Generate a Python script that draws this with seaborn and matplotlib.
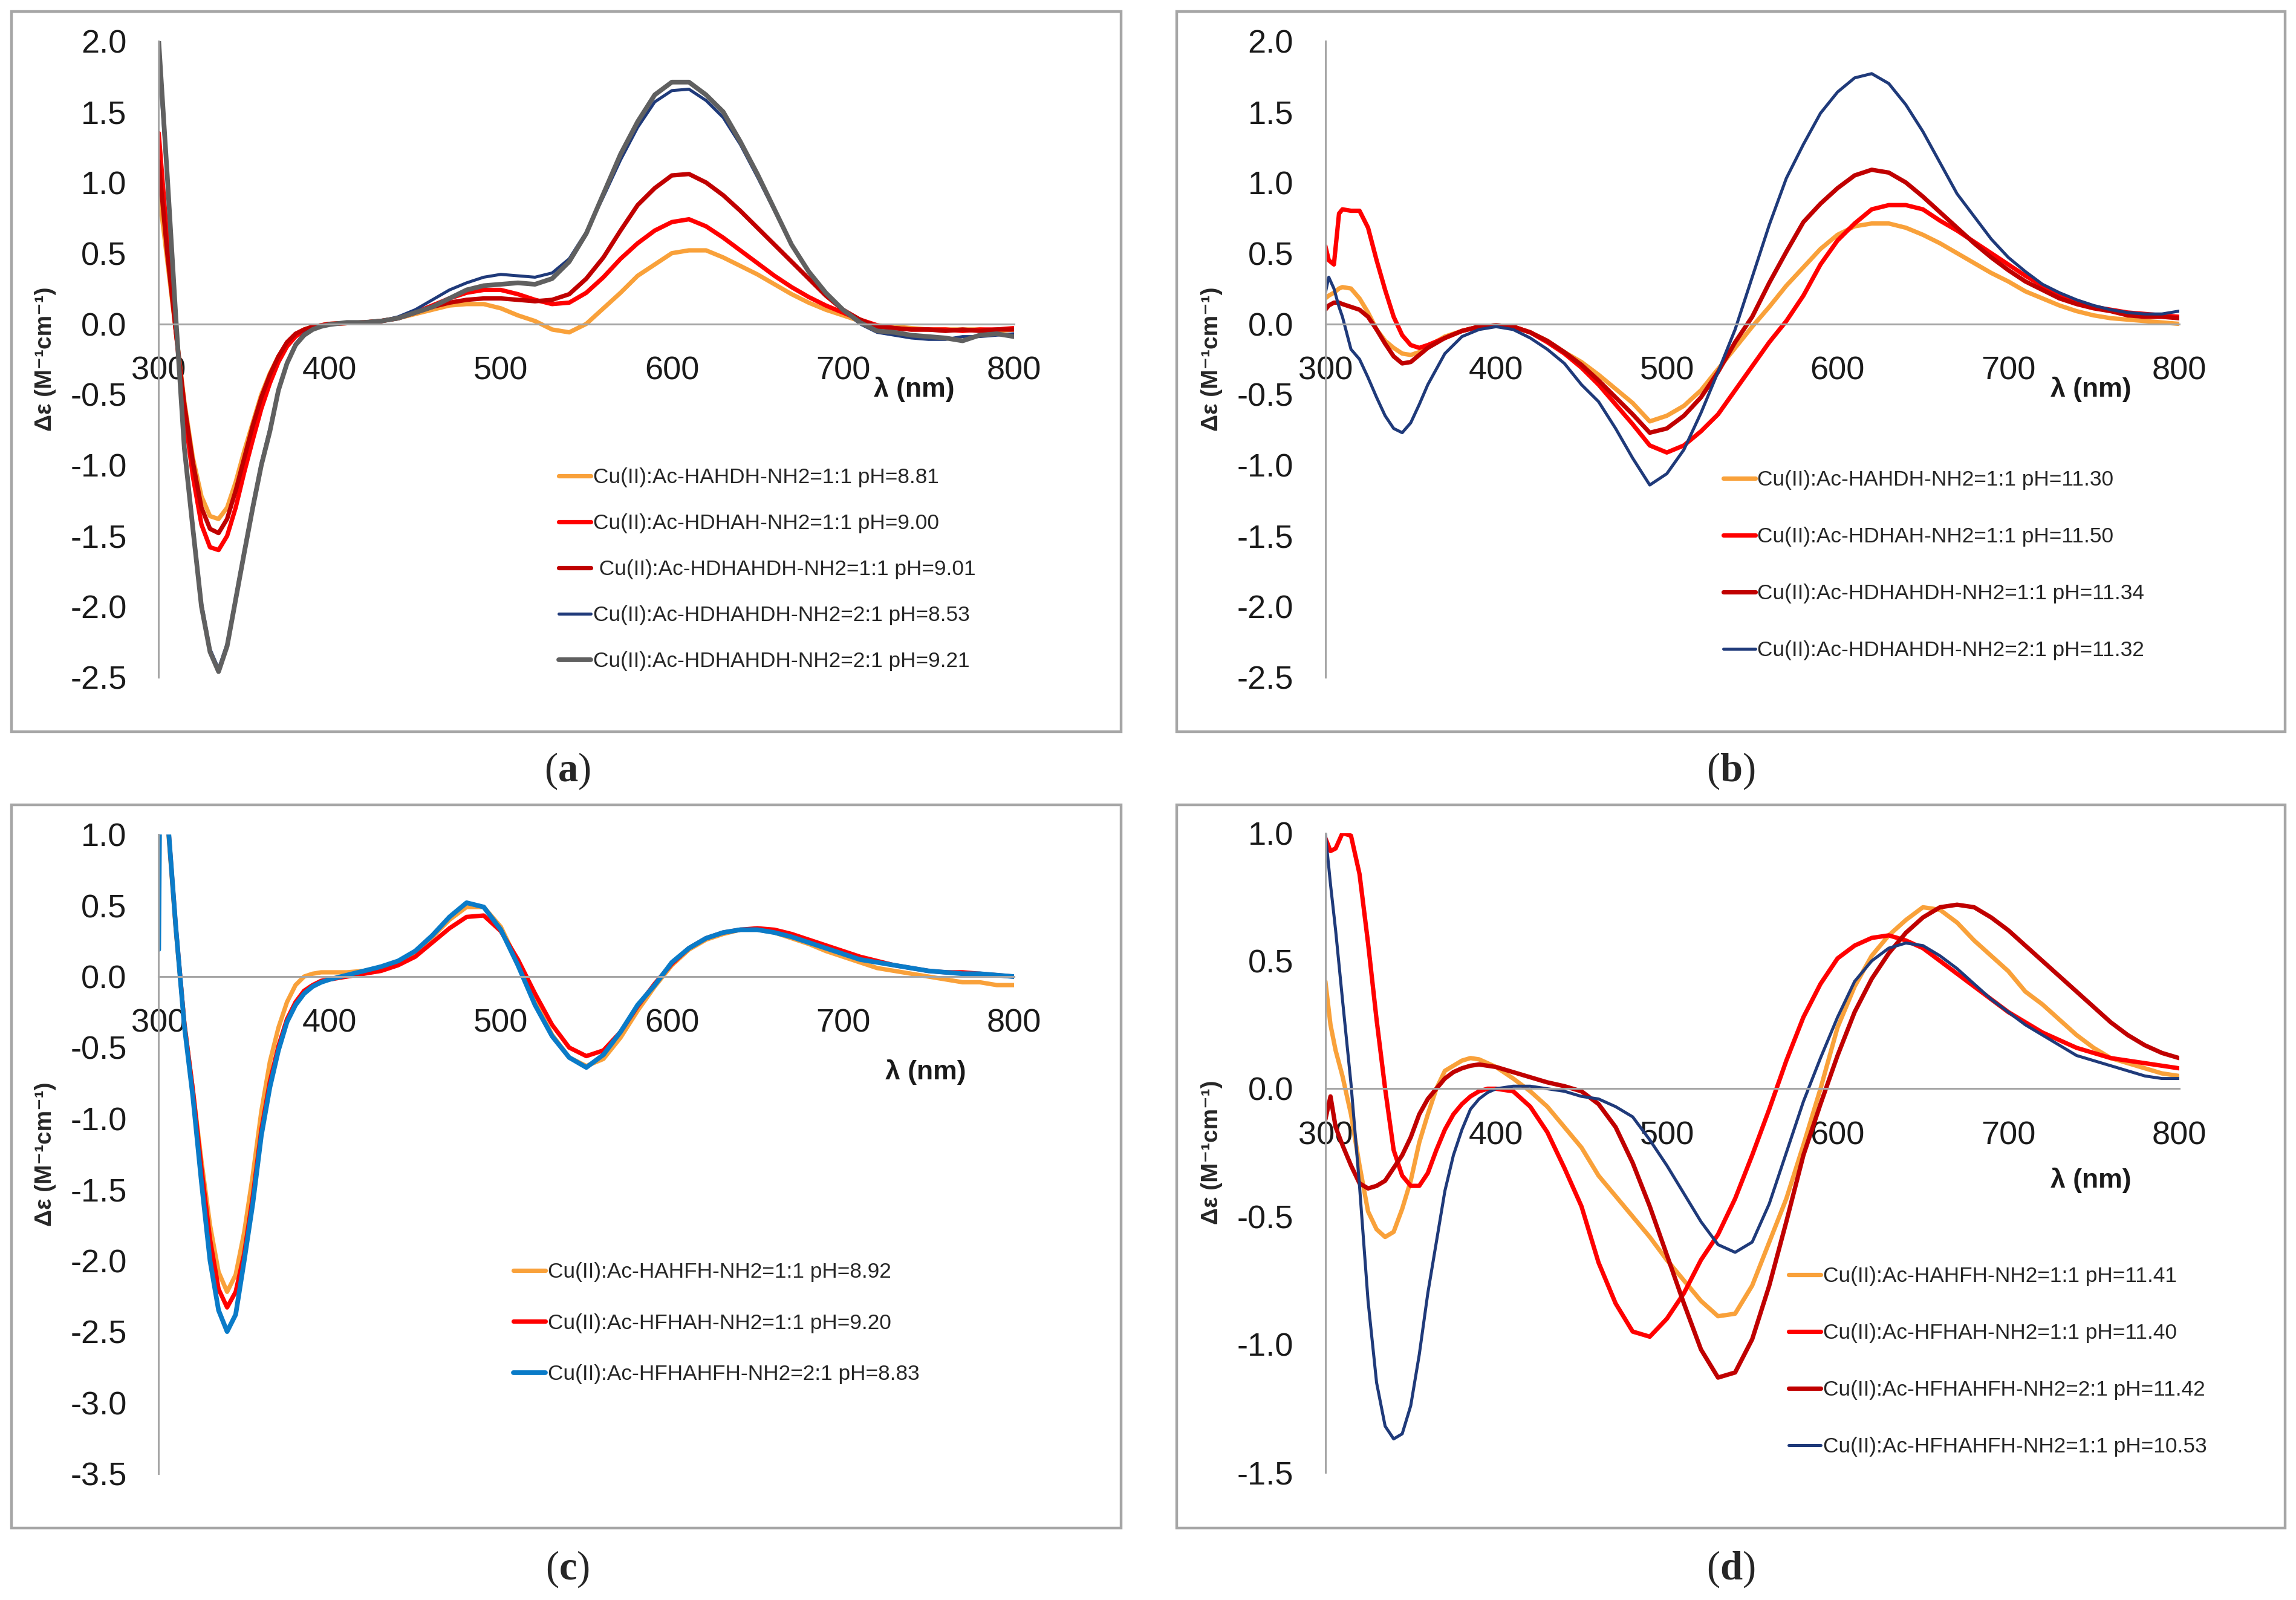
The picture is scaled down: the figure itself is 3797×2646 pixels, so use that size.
import numpy as np
import pandas as pd
import seaborn as sns
import matplotlib.pyplot as plt
from matplotlib.patches import Rectangle
from matplotlib.ticker import FormatStrFormatter

# ---- wavelength grids (nm) ----
wl_a = list(range(300, 401, 5)) + list(range(410, 801, 10))
wl_b = [300, 302, 305, 308, 310, 315, 320, 325, 330, 335, 340, 345, 350, 355, 360] + list(range(370, 801, 10))
wl_c = [300, 301] + list(range(305, 401, 5)) + list(range(410, 801, 10))
wl_d = [300, 303, 306] + list(range(310, 401, 5)) + list(range(410, 801, 10))

# ---- panel (a) ----
a_hahdh_881 = [0.95, 0.45, -0.05, -0.55, -0.95, -1.22, -1.36, -1.38, -1.30, -1.12, -0.90, -0.70, -0.50, -0.35,
               -0.23, -0.14, -0.08, -0.04, -0.02, -0.01, 0.00,
               0.005, 0.01, 0.02, 0.04, 0.07, 0.10, 0.13, 0.14, 0.14, 0.11,
               0.06, 0.02, -0.04, -0.06, 0.00, 0.11, 0.22, 0.34, 0.42, 0.50,
               0.52, 0.52, 0.47, 0.41, 0.35, 0.28, 0.21, 0.15, 0.10, 0.06,
               0.02, -0.01, -0.02, -0.03, -0.04, -0.04, -0.04, -0.04, -0.05, -0.04]
a_hdhah_900 = [1.35, 0.60, -0.05, -0.62, -1.08, -1.42, -1.58, -1.60, -1.50, -1.30, -1.05, -0.82, -0.60, -0.42,
               -0.27, -0.16, -0.09, -0.05, -0.02, -0.01, 0.00,
               0.005, 0.01, 0.02, 0.04, 0.08, 0.13, 0.18, 0.22, 0.24, 0.24,
               0.21, 0.17, 0.14, 0.15, 0.22, 0.33, 0.46, 0.57, 0.66, 0.72,
               0.74, 0.69, 0.61, 0.52, 0.43, 0.34, 0.26, 0.19, 0.13, 0.08,
               0.03, -0.01, -0.03, -0.04, -0.04, -0.04, -0.05, -0.04, -0.04, -0.03]
a_hdhahdh11_901 = [1.15, 0.50, -0.05, -0.57, -0.98, -1.30, -1.45, -1.48, -1.38, -1.18, -0.95, -0.72, -0.52, -0.36,
                   -0.23, -0.13, -0.07, -0.04, -0.02, -0.01, 0.00,
                   0.005, 0.01, 0.02, 0.04, 0.08, 0.12, 0.15, 0.17, 0.18, 0.18,
                   0.17, 0.16, 0.17, 0.21, 0.32, 0.47, 0.66, 0.84, 0.96, 1.05,
                   1.06, 1.00, 0.91, 0.80, 0.68, 0.56, 0.44, 0.32, 0.20, 0.10,
                   0.03, -0.02, -0.03, -0.04, -0.04, -0.05, -0.04, -0.05, -0.04, -0.04]
a_hdhahdh21_853 = [1.90, 1.00, 0.05, -0.85, -1.42, -1.97, -2.30, -2.44, -2.26, -1.93, -1.60, -1.28, -0.98, -0.74,
                   -0.46, -0.27, -0.14, -0.07, -0.035, -0.015, 0.00,
                   0.01, 0.01, 0.02, 0.05, 0.10, 0.17, 0.24, 0.29, 0.33, 0.35,
                   0.34, 0.33, 0.36, 0.46, 0.65, 0.90, 1.16, 1.39, 1.57, 1.65,
                   1.66, 1.58, 1.46, 1.27, 1.04, 0.80, 0.56, 0.37, 0.22, 0.10,
                   0.00, -0.06, -0.08, -0.10, -0.11, -0.11, -0.09, -0.09, -0.08, -0.07]
a_hdhahdh21_921 = [2.00, 1.05, 0.05, -0.88, -1.45, -2.00, -2.32, -2.46, -2.28, -1.95, -1.62, -1.30, -1.00, -0.76,
                   -0.47, -0.28, -0.15, -0.08, -0.04, -0.018, -0.005,
                   0.01, 0.01, 0.02, 0.04, 0.08, 0.12, 0.18, 0.24, 0.27, 0.28,
                   0.29, 0.28, 0.32, 0.44, 0.64, 0.92, 1.20, 1.43, 1.62, 1.71,
                   1.71, 1.62, 1.50, 1.29, 1.06, 0.81, 0.56, 0.37, 0.22, 0.10,
                   0.01, -0.05, -0.06, -0.08, -0.09, -0.10, -0.12, -0.08, -0.07, -0.09]

# ---- panel (b) ----
b_hahdh_1130 = [0.18, 0.20, 0.22, 0.25, 0.26, 0.25, 0.18, 0.08, -0.04, -0.12, -0.17, -0.21, -0.22, -0.20, -0.16,
                -0.09, -0.05, -0.02, -0.01,
                -0.02, -0.06, -0.12, -0.20, -0.27, -0.36, -0.46, -0.56, -0.69, -0.65,
                -0.58, -0.47, -0.32, -0.17, -0.02, 0.12, 0.27, 0.40, 0.53, 0.63,
                0.69, 0.71, 0.71, 0.68, 0.63, 0.57, 0.50, 0.43, 0.36, 0.30,
                0.23, 0.18, 0.13, 0.09, 0.06, 0.04, 0.03, 0.02, 0.01, 0.00]
b_hdhah_1150 = [0.55, 0.45, 0.42, 0.78, 0.81, 0.80, 0.80, 0.68, 0.45, 0.24, 0.05, -0.08, -0.15, -0.17, -0.15,
                -0.10, -0.05, -0.02, -0.01,
                -0.02, -0.06, -0.13, -0.21, -0.31, -0.43, -0.57, -0.71, -0.86, -0.91,
                -0.86, -0.76, -0.64, -0.47, -0.30, -0.13, 0.02, 0.20, 0.42, 0.59,
                0.71, 0.81, 0.84, 0.84, 0.81, 0.73, 0.66, 0.58, 0.50, 0.42,
                0.34, 0.27, 0.21, 0.16, 0.12, 0.10, 0.08, 0.07, 0.06, 0.05]
b_hdhahdh11_1134 = [0.10, 0.13, 0.15, 0.15, 0.14, 0.12, 0.10, 0.05, -0.04, -0.14, -0.23, -0.28, -0.27, -0.22, -0.17,
                    -0.10, -0.05, -0.02, -0.01,
                    -0.02, -0.06, -0.12, -0.20, -0.29, -0.40, -0.52, -0.64, -0.77, -0.74,
                    -0.65, -0.52, -0.34, -0.13, 0.05, 0.29, 0.51, 0.72, 0.85, 0.96,
                    1.05, 1.09, 1.07, 1.00, 0.90, 0.79, 0.68, 0.57, 0.47, 0.38,
                    0.30, 0.24, 0.18, 0.14, 0.11, 0.09, 0.06, 0.05, 0.05, 0.04]
b_hdhahdh21_1132 = [0.22, 0.33, 0.25, 0.12, 0.05, -0.18, -0.25, -0.38, -0.52, -0.65, -0.74, -0.77, -0.70, -0.57, -0.43,
                    -0.21, -0.09, -0.04, -0.02,
                    -0.04, -0.10, -0.18, -0.28, -0.43, -0.55, -0.74, -0.95, -1.14, -1.06,
                    -0.89, -0.63, -0.34, -0.04, 0.33, 0.70, 1.03, 1.27, 1.49, 1.64,
                    1.74, 1.77, 1.70, 1.55, 1.36, 1.14, 0.92, 0.76, 0.60, 0.47,
                    0.37, 0.28, 0.22, 0.17, 0.13, 0.10, 0.08, 0.07, 0.07, 0.09]

# ---- panel (c) ----
c_hahfh_892 = [2.20, 2.10, 1.12, 0.33, -0.33, -0.80, -1.30, -1.75, -2.08, -2.22, -2.10, -1.80, -1.40, -0.95,
               -0.60, -0.36, -0.18, -0.06, 0.00, 0.02, 0.03, 0.03,
               0.03, 0.04, 0.06, 0.10, 0.17, 0.28, 0.40, 0.49, 0.49, 0.35,
               0.10, -0.18, -0.41, -0.57, -0.63, -0.58, -0.43, -0.24, -0.07, 0.08,
               0.19, 0.26, 0.30, 0.33, 0.33, 0.31, 0.27, 0.23, 0.18, 0.14,
               0.10, 0.06, 0.04, 0.02, 0.00, -0.02, -0.04, -0.04, -0.06, -0.06]
c_hfhah_920 = [2.30, 2.20, 1.15, 0.35, -0.33, -0.80, -1.35, -1.85, -2.20, -2.33, -2.22, -1.95, -1.55, -1.08,
               -0.74, -0.49, -0.30, -0.18, -0.10, -0.06, -0.03, -0.02,
               0.00, 0.02, 0.04, 0.08, 0.14, 0.24, 0.34, 0.42, 0.43, 0.32,
               0.12, -0.12, -0.34, -0.50, -0.56, -0.52, -0.39, -0.21, -0.05, 0.09,
               0.20, 0.27, 0.31, 0.33, 0.34, 0.33, 0.30, 0.26, 0.22, 0.18,
               0.14, 0.11, 0.08, 0.06, 0.04, 0.03, 0.03, 0.02, 0.01, 0.00]
c_hfhahfh21_883 = [0.19, 1.90, 1.15, 0.35, -0.35, -0.85, -1.45, -2.00, -2.35, -2.50, -2.38, -2.00, -1.60, -1.12,
                   -0.78, -0.52, -0.32, -0.20, -0.12, -0.07, -0.04, -0.02,
                   0.01, 0.04, 0.07, 0.11, 0.18, 0.29, 0.42, 0.52, 0.49, 0.33,
                   0.08, -0.20, -0.42, -0.57, -0.64, -0.55, -0.39, -0.20, -0.06, 0.10,
                   0.20, 0.27, 0.31, 0.33, 0.33, 0.31, 0.28, 0.24, 0.20, 0.16,
                   0.12, 0.10, 0.08, 0.06, 0.04, 0.03, 0.02, 0.02, 0.01, 0.00]

# ---- panel (d) ----
d_hahfh_1141 = [0.42, 0.25, 0.15, 0.05, -0.10, -0.30, -0.48, -0.55, -0.58, -0.56, -0.47, -0.36, -0.21, -0.10,
                0.00, 0.07, 0.09, 0.11, 0.12, 0.115, 0.10, 0.085,
                0.04, -0.01, -0.07, -0.15, -0.23, -0.34, -0.42, -0.50, -0.58, -0.67,
                -0.75, -0.83, -0.89, -0.88, -0.77, -0.60, -0.43, -0.22, 0.00, 0.24,
                0.40, 0.52, 0.60, 0.66, 0.71, 0.70, 0.65, 0.58, 0.52, 0.46,
                0.38, 0.33, 0.27, 0.21, 0.16, 0.12, 0.10, 0.08, 0.06, 0.05]
d_hfhah_1140 = [0.98, 0.93, 0.94, 1.00, 0.99, 0.84, 0.57, 0.27, 0.00, -0.24, -0.34, -0.38, -0.38, -0.33,
                -0.24, -0.16, -0.10, -0.06, -0.03, -0.01, 0.00, 0.00,
                -0.01, -0.07, -0.17, -0.31, -0.46, -0.68, -0.84, -0.95, -0.97, -0.90,
                -0.80, -0.67, -0.57, -0.43, -0.26, -0.08, 0.11, 0.28, 0.41, 0.51,
                0.56, 0.59, 0.60, 0.58, 0.55, 0.50, 0.45, 0.40, 0.35, 0.30,
                0.26, 0.22, 0.19, 0.16, 0.14, 0.12, 0.11, 0.10, 0.09, 0.08]
d_hfhahfh21_1142 = [-0.12, -0.03, -0.15, -0.22, -0.30, -0.37, -0.39, -0.38, -0.36, -0.31, -0.26, -0.19, -0.10, -0.04,
                    0.00, 0.04, 0.065, 0.08, 0.09, 0.095, 0.09, 0.085,
                    0.065, 0.045, 0.025, 0.01, -0.01, -0.06, -0.15, -0.29, -0.46, -0.65,
                    -0.84, -1.02, -1.13, -1.11, -0.98, -0.77, -0.52, -0.26, -0.06, 0.13,
                    0.30, 0.43, 0.53, 0.61, 0.67, 0.71, 0.72, 0.71, 0.67, 0.62,
                    0.56, 0.50, 0.44, 0.38, 0.32, 0.26, 0.21, 0.17, 0.14, 0.12]
d_hfhahfh11_1053 = [1.00, 0.80, 0.62, 0.35, 0.02, -0.38, -0.83, -1.15, -1.32, -1.37, -1.35, -1.24, -1.04, -0.80,
                    -0.60, -0.40, -0.26, -0.16, -0.08, -0.04, -0.015, 0.00,
                    0.01, 0.01, 0.00, -0.01, -0.03, -0.04, -0.07, -0.11, -0.20, -0.30,
                    -0.41, -0.52, -0.61, -0.64, -0.60, -0.45, -0.25, -0.05, 0.12, 0.28,
                    0.42, 0.50, 0.55, 0.57, 0.56, 0.52, 0.47, 0.41, 0.35, 0.30,
                    0.25, 0.21, 0.17, 0.13, 0.11, 0.09, 0.07, 0.05, 0.04, 0.04]

# ---- styling ----
ORANGE = "#F9A13A"
RED = "#FF0000"
DARKRED = "#C00000"
NAVY = "#1F3A7A"
GREY = "#606060"
SKY = "#0A7BC8"
AXIS_GREY = "#A6A6A6"

panels = [
    {
        "rect": [0.0691, 0.5767, 0.3724, 0.3976], "frame": [0.0051, 0.5427, 0.4831, 0.4500],
        "wl": wl_a, "ylim": (-2.5, 2.0), "yticks": np.arange(-2.5, 2.01, 0.5),
        "series": [
            ("Cu(II):Ac-HAHDH-NH2=1:1 pH=8.81", a_hahdh_881, ORANGE, 2.6),
            ("Cu(II):Ac-HDHAH-NH2=1:1 pH=9.00", a_hdhah_900, RED, 2.6),
            (" Cu(II):Ac-HDHAHDH-NH2=1:1 pH=9.01", a_hdhahdh11_901, DARKRED, 2.6),
            ("Cu(II):Ac-HDHAHDH-NH2=2:1 pH=8.53", a_hdhahdh21_853, NAVY, 1.8),
            ("Cu(II):Ac-HDHAHDH-NH2=2:1 pH=9.21", a_hdhahdh21_921, GREY, 2.8),
        ],
        "legend": (0.468, 0.330, 1.22), "lam": (0.883, 0.453), "tag": ("a", 0.247, 0.518),
    },
    {
        "rect": [0.5771, 0.5767, 0.3717, 0.3976], "frame": [0.5125, 0.5427, 0.4824, 0.4500],
        "wl": wl_b, "ylim": (-2.5, 2.0), "yticks": np.arange(-2.5, 2.01, 0.5),
        "series": [
            ("Cu(II):Ac-HAHDH-NH2=1:1 pH=11.30", b_hahdh_1130, ORANGE, 2.6),
            ("Cu(II):Ac-HDHAH-NH2=1:1 pH=11.50", b_hdhah_1150, RED, 2.6),
            ("Cu(II):Ac-HDHAHDH-NH2=1:1 pH=11.34", b_hdhahdh11_1134, DARKRED, 2.6),
            ("Cu(II):Ac-HDHAHDH-NH2=2:1 pH=11.32", b_hdhahdh21_1132, NAVY, 1.8),
        ],
        "legend": (0.466, 0.326, 1.73), "lam": (0.897, 0.453), "tag": ("b", 0.7537, 0.518),
    },
    {
        "rect": [0.0691, 0.0790, 0.3724, 0.3994], "frame": [0.0051, 0.0450, 0.4831, 0.4518],
        "wl": wl_c, "ylim": (-3.5, 1.0), "yticks": np.arange(-3.5, 1.01, 0.5),
        "series": [
            ("Cu(II):Ac-HAHFH-NH2=1:1 pH=8.92", c_hahfh_892, ORANGE, 2.6),
            ("Cu(II):Ac-HFHAH-NH2=1:1 pH=9.20", c_hfhah_920, RED, 2.6),
            ("Cu(II):Ac-HFHAHFH-NH2=2:1 pH=8.83", c_hfhahfh21_883, SKY, 2.8),
        ],
        "legend": (0.415, 0.331, 1.46), "lam": (0.897, 0.628), "tag": ("c", 0.247, 0.0193),
    },
    {
        "rect": [0.5771, 0.0799, 0.3717, 0.3994], "frame": [0.5125, 0.0450, 0.4824, 0.4518],
        "wl": wl_d, "ylim": (-1.5, 1.0), "yticks": np.arange(-1.5, 1.01, 0.5),
        "series": [
            ("Cu(II):Ac-HAHFH-NH2=1:1 pH=11.41", d_hahfh_1141, ORANGE, 2.6),
            ("Cu(II):Ac-HFHAH-NH2=1:1 pH=11.40", d_hfhah_1140, RED, 2.6),
            ("Cu(II):Ac-HFHAHFH-NH2=2:1 pH=11.42", d_hfhahfh21_1142, DARKRED, 2.6),
            ("Cu(II):Ac-HFHAHFH-NH2=1:1 pH=10.53", d_hfhahfh11_1053, NAVY, 1.8),
        ],
        "legend": (0.543, 0.322, 1.73), "lam": (0.897, 0.457), "tag": ("d", 0.7537, 0.0193),
    },
]

sns.set_theme(style="white")
plt.rcParams["font.family"] = ["Liberation Sans", "DejaVu Sans"]
plt.rcParams["axes.unicode_minus"] = False
plt.rcParams["mathtext.fontset"] = "custom"
plt.rcParams["mathtext.rm"] = "Liberation Serif"
plt.rcParams["mathtext.bf"] = "Liberation Serif:bold"

fig = plt.figure(figsize=(18.99, 13.23), dpi=200)
fig.patch.set_facecolor("white")

for p in panels:
    fig.patches.append(Rectangle((p["frame"][0], p["frame"][1]), p["frame"][2], p["frame"][3],
                                 transform=fig.transFigure, fill=False,
                                 edgecolor=AXIS_GREY, linewidth=1.6))
    ax = fig.add_axes(p["rect"])
    for label, values, color, lw in p["series"]:
        df = pd.DataFrame({"wl": p["wl"], "de": values})
        sns.lineplot(data=df, x="wl", y="de", color=color, linewidth=lw,
                     label=label, sort=False, ax=ax)

    ax.set_xlim(300, 800)
    ax.set_ylim(*p["ylim"])
    ax.set_xticks(range(300, 801, 100))
    ax.set_yticks(p["yticks"])
    ax.yaxis.set_major_formatter(FormatStrFormatter("%.1f"))

    for side in ("top", "right"):
        ax.spines[side].set_visible(False)
    ax.spines["bottom"].set_position(("data", 0))
    for side in ("left", "bottom"):
        ax.spines[side].set_color(AXIS_GREY)
        ax.spines[side].set_linewidth(1.1)

    ax.tick_params(axis="both", direction="out", length=7, width=1.1,
                   color=AXIS_GREY, labelsize=19.5, labelcolor="#1a1a1a")
    ax.tick_params(axis="x", pad=12)
    ax.tick_params(axis="y", pad=12)

    ax.set_xlabel("")
    ax.set_ylabel("Δε (M⁻¹cm⁻¹)", fontsize=14, fontweight="bold")
    ax.yaxis.set_label_coords(-0.12, 0.5)

    ax.text(p["lam"][0], p["lam"][1], "λ (nm)", transform=ax.transAxes,
            ha="center", va="center", fontsize=16, fontweight="bold", color="#1a1a1a")

    lx, ly, lsp = p["legend"]
    ax.legend(loc="upper left", bbox_to_anchor=(lx, ly), frameon=False,
              fontsize=12.7, handlelength=1.5, handletextpad=0.1,
              labelspacing=lsp, borderpad=0, borderaxespad=0)

    tag, tx, ty = p["tag"]
    fig.text(tx, ty, r"($\mathbf{" + tag + r"}$)", ha="center", va="center",
             fontsize=24, family="Liberation Serif")

fig.savefig("out.png", dpi=200, facecolor="white")
